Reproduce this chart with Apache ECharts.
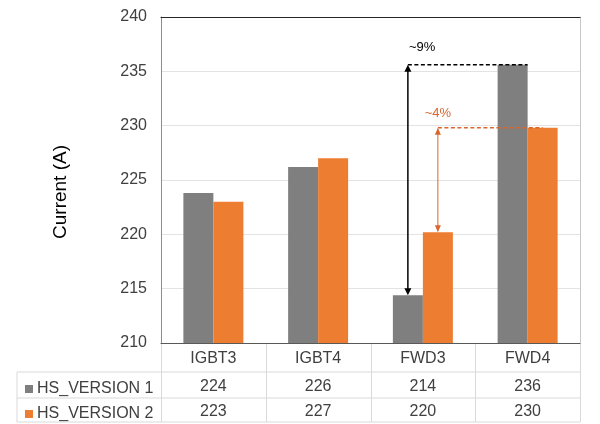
<!DOCTYPE html>
<html>
<head>
<meta charset="utf-8">
<script src="https://cdn.jsdelivr.net/npm/echarts@6/dist/echarts.min.js"></script>
<style>
  html, body { margin: 0; padding: 0; background: #fff; }
  #main { width: 600px; height: 424px; }
</style>
</head>
<body>
<div id="main"></div>
<script>
// 数据
var categories = ['IGBT3', 'IGBT4', 'FWD3', 'FWD4'];
var seriesNames = ['HS_VERSION 1', 'HS_VERSION 2'];
var version1 = [223.8, 226.2, 214.4, 235.6];
var version2 = [223.0, 227.0, 220.2, 229.8];
var yMin = 210, yMax = 240, yStep = 5;
var noteLabels = ['~9%', '~4%'];

var gray = '#7f7f7f', orange = '#ed7d31';
var noteColors = ['#000000', '#d9662c'];
var textColor = '#404040';
var font = 'Liberation Sans';

// 绘图区位置
var gridLeft = 161, gridRight = 20, gridTop = 17, gridBottom = 81;
var plotRight = 600 - gridRight, plotBottom = 424 - gridBottom;
var colW = (plotRight - gridLeft) / categories.length;
var barW = 30;

// 表格线
var tableLines = [];
var rowY = [plotBottom + 29, plotBottom + 55, plotBottom + 79];
rowY.forEach(function (y) {
    tableLines.push({ type: 'line', shape: { x1: 17, y1: y, x2: plotRight, y2: y } });
});
tableLines.push({ type: 'line', shape: { x1: 17, y1: rowY[0], x2: 17, y2: rowY[2] } });
for (var i = 0; i <= categories.length; i++) {
    var x = Math.round(gridLeft + i * colW) + 0.5;
    tableLines.push({ type: 'line', shape: { x1: x, y1: plotBottom, x2: x, y2: rowY[2] } });
}
tableLines.forEach(function (l) {
    l.style = { stroke: '#d9d9d9', lineWidth: 1 };
    l.silent = true;
});

// 标注：差值箭头
function renderNote(params, api) {
    var i = params.dataIndex;
    var color = noteColors[i];
    var shift = i === 0 ? -barW / 2 : barW / 2;
    var low = api.coord([api.value(0), api.value(1)]);
    var high = api.coord([api.value(0), api.value(2)]);
    var end = api.coord([api.value(3), api.value(2)]);
    var x = low[0] + shift;
    var xEnd = end[0] + (i === 0 ? 0 : barW / 2);
    var yTop = high[1], yBot = low[1];
    var hw = i === 0 ? 3.5 : 3, hl = 7;
    var lw = i === 0 ? 1.5 : 1;
    return {
        type: 'group',
        children: [
            { type: 'line', shape: { x1: x, y1: yTop + hl - 1, x2: x, y2: yBot - hl + 1 }, style: { stroke: color, lineWidth: lw } },
            { type: 'polygon', shape: { points: [[x, yTop], [x - hw, yTop + hl], [x + hw, yTop + hl]] }, style: { fill: color } },
            { type: 'polygon', shape: { points: [[x, yBot], [x - hw, yBot - hl], [x + hw, yBot - hl]] }, style: { fill: color } },
            { type: 'line', shape: { x1: x, y1: yTop, x2: xEnd, y2: yTop }, style: { stroke: color, lineWidth: 1.5, lineDash: [4, 2.5] } },
            {
                type: 'text',
                style: {
                    text: noteLabels[i],
                    x: i === 0 ? x + 1 : x,
                    y: i === 0 ? yTop - 17 : yTop - 14,
                    fill: color,
                    font: '13px "' + font + '"',
                    align: i === 0 ? 'left' : 'center',
                    verticalAlign: 'middle'
                }
            }
        ]
    };
}

function legendRow(name, top) {
    return {
        data: [name],
        left: 20,
        top: top,
        icon: 'rect',
        itemWidth: 8,
        itemHeight: 8,
        itemGap: 5,
        selectedMode: false,
        textStyle: { fontSize: 16, color: textColor, fontFamily: font, padding: [0, 0, 0, -1] }
    };
}

var myChart = echarts.init(document.getElementById('main'));
myChart.setOption({
    animation: false,
    textStyle: { fontFamily: font },
    grid: { left: gridLeft, right: gridRight, top: gridTop, bottom: gridBottom },
    legend: [legendRow(seriesNames[0], 376), legendRow(seriesNames[1], 401)],
    xAxis: [{
        type: 'category',
        data: categories,
        position: 'bottom',
        axisLine: { lineStyle: { color: '#595959' } },
        axisTick: { show: false },
        axisLabel: { fontSize: 16, color: textColor, margin: 8 }
    }, {
        type: 'category',
        data: version1.map(function (v) { return String(Math.round(v)); }),
        position: 'bottom',
        offset: 28,
        axisLine: { show: false },
        axisTick: { show: false },
        axisLabel: { fontSize: 16, color: textColor, margin: 8 }
    }, {
        type: 'category',
        data: version2.map(function (v) { return String(Math.round(v)); }),
        position: 'bottom',
        offset: 53,
        axisLine: { show: false },
        axisTick: { show: false },
        axisLabel: { fontSize: 16, color: textColor, margin: 8 }
    }, {
        type: 'category',
        data: categories,
        position: 'top',
        axisLine: { lineStyle: { color: '#262626' } },
        axisTick: { show: false },
        axisLabel: { show: false }
    }],
    yAxis: [{
        type: 'value',
        min: yMin,
        max: yMax,
        interval: yStep,
        name: 'Current (A)',
        nameLocation: 'middle',
        nameGap: 91,
        nameTextStyle: { fontSize: 19, color: '#000', padding: [0, 24, 0, 0] },
        axisLine: { show: true, lineStyle: { color: '#8c8c8c' } },
        axisTick: { show: false },
        axisLabel: { fontSize: 16, color: textColor, margin: 14 },
        splitLine: { lineStyle: { color: '#e3e3e3' } }
    }, {
        type: 'value',
        min: yMin,
        max: yMax,
        interval: yStep,
        position: 'right',
        axisLine: { show: true, lineStyle: { color: '#c8c8c8' } },
        axisTick: { show: false },
        axisLabel: { show: false },
        splitLine: { show: false }
    }],
    series: [{
        name: seriesNames[0],
        type: 'bar',
        barWidth: barW,
        barGap: '0%',
        itemStyle: { color: gray },
        data: version1
    }, {
        name: seriesNames[1],
        type: 'bar',
        barWidth: barW,
        barGap: '0%',
        itemStyle: { color: orange },
        data: version2
    }, {
        name: 'notes',
        type: 'custom',
        z: 10,
        renderItem: renderNote,
        data: [
            [2, version1[2], version1[3], 3],
            [2, version2[2], version2[3], 3]
        ]
    }],
    graphic: tableLines
});
</script>
</body>
</html>
